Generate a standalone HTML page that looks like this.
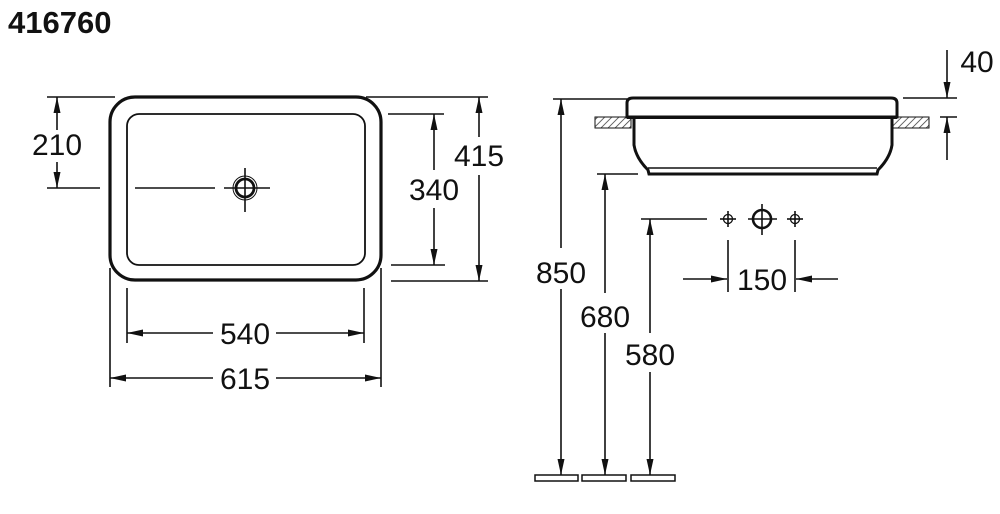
<!DOCTYPE html>
<html><head><meta charset="utf-8"><style>
html,body{margin:0;padding:0;background:#fff;}
svg{display:block;}
text{font-family:"Liberation Sans",Arial,sans-serif;fill:#111;}
</style></head><body>
<svg width="1000" height="514" viewBox="0 0 1000 514" xmlns="http://www.w3.org/2000/svg">
<defs>
<marker id="a" viewBox="0 0 10 10" refX="10" refY="5" markerWidth="16" markerHeight="7" preserveAspectRatio="none" markerUnits="userSpaceOnUse" orient="auto"><path d="M0,0 L10,5 L0,10z" fill="#111"/></marker>
<pattern id="h" width="5" height="5" patternUnits="userSpaceOnUse" patternTransform="rotate(45)"><rect width="5" height="5" fill="#fff"/><line x1="0" y1="0" x2="0" y2="5" stroke="#333" stroke-width="1.5"/></pattern>
</defs>
<text x="8" y="33" font-size="31" font-weight="bold">416760</text>
<g stroke="#111" fill="none">
<rect x="110" y="97" width="271" height="183" rx="25" stroke-width="3.2"/>
<rect x="127" y="114" width="238" height="151" rx="12" stroke-width="1.8"/>
<circle cx="245" cy="188" r="12" stroke-width="1"/>
<circle cx="245" cy="188" r="9" stroke-width="2.8"/>
<g stroke-width="1.6">
<line x1="224" y1="188" x2="270" y2="188"/><line x1="245" y1="168" x2="245" y2="212"/>
<line x1="135" y1="188" x2="215" y2="188"/>
<line x1="47" y1="97" x2="115" y2="97"/><line x1="47" y1="188" x2="100" y2="188"/>
<line x1="57" y1="130" x2="57" y2="97" marker-end="url(#a)"/>
<line x1="57" y1="162" x2="57" y2="188" marker-end="url(#a)"/>
<line x1="388" y1="114" x2="444" y2="114"/><line x1="391" y1="265" x2="445" y2="265"/>
<line x1="434" y1="170" x2="434" y2="114" marker-end="url(#a)"/>
<line x1="434" y1="208" x2="434" y2="265" marker-end="url(#a)"/>
<line x1="366" y1="97" x2="488" y2="97"/><line x1="391" y1="281" x2="488" y2="281"/>
<line x1="479" y1="137" x2="479" y2="97" marker-end="url(#a)"/>
<line x1="479" y1="175" x2="479" y2="281" marker-end="url(#a)"/>
<line x1="127" y1="288" x2="127" y2="343"/><line x1="364" y1="288" x2="364" y2="343"/>
<line x1="213" y1="333" x2="127" y2="333" marker-end="url(#a)"/>
<line x1="276" y1="333" x2="364" y2="333" marker-end="url(#a)"/>
<line x1="110" y1="268" x2="110" y2="387"/><line x1="381" y1="268" x2="381" y2="387"/>
<line x1="213" y1="378" x2="110" y2="378" marker-end="url(#a)"/>
<line x1="276" y1="378" x2="381" y2="378" marker-end="url(#a)"/>
</g>
<rect x="595" y="117" width="36" height="11" fill="url(#h)" stroke-width="1"/>
<rect x="893" y="117" width="36" height="11" fill="url(#h)" stroke-width="1"/>
<path d="M627,117 L627,103 Q627,98 633,98 L891,98 Q897,98 897,103 L897,117 Z" fill="#fff" stroke-width="3"/>
<path d="M634,118 L634,145 Q636,158 648,170 L649,174 L877,174 L878,170 Q890,158 892,145 L892,118" fill="#fff" stroke-width="3"/>
<line x1="648" y1="168" x2="877" y2="168" stroke-width="1.5"/>
<line x1="627" y1="117.5" x2="897" y2="117.5" stroke-width="3"/>
<g stroke-width="1.6">
<line x1="553" y1="99" x2="627" y2="99"/>
<line x1="561" y1="248" x2="561" y2="99" marker-end="url(#a)"/>
<line x1="561" y1="289" x2="561" y2="475" marker-end="url(#a)"/>
<line x1="597" y1="174" x2="638" y2="174"/>
<line x1="605" y1="293" x2="605" y2="174" marker-end="url(#a)"/>
<line x1="605" y1="333" x2="605" y2="475" marker-end="url(#a)"/>
<line x1="641" y1="219" x2="707" y2="219"/>
<line x1="650" y1="333" x2="650" y2="219" marker-end="url(#a)"/>
<line x1="650" y1="372" x2="650" y2="475" marker-end="url(#a)"/>
<line x1="720" y1="219" x2="736" y2="219"/><line x1="728" y1="211" x2="728" y2="227"/>
<line x1="787" y1="219" x2="803" y2="219"/><line x1="795" y1="211" x2="795" y2="227"/>
<line x1="748" y1="219" x2="777" y2="219"/><line x1="762" y1="204" x2="762" y2="235"/>
<line x1="728" y1="240" x2="728" y2="292"/><line x1="795" y1="240" x2="795" y2="292"/>
<line x1="683" y1="279" x2="727" y2="279" marker-end="url(#a)"/>
<line x1="838" y1="279" x2="796" y2="279" marker-end="url(#a)"/>
<line x1="903" y1="98" x2="957" y2="98"/><line x1="940" y1="117" x2="957" y2="117"/>
<line x1="947" y1="50" x2="947" y2="98" marker-end="url(#a)"/>
<line x1="947" y1="160" x2="947" y2="117" marker-end="url(#a)"/>
</g>
<circle cx="728" cy="219" r="4.5" stroke-width="1.3"/>
<circle cx="795" cy="219" r="4.5" stroke-width="1.3"/>
<circle cx="762" cy="219" r="9" stroke-width="2.6"/>
<rect x="535" y="475" width="43" height="6" stroke-width="1.5"/>
<rect x="582" y="475" width="44" height="6" stroke-width="1.5"/>
<rect x="631" y="475" width="44" height="6" stroke-width="1.5"/>
</g>
<g font-size="30" text-anchor="middle">
<text x="57" y="155">210</text>
<text x="434" y="200">340</text>
<text x="479" y="166">415</text>
<text x="245" y="344">540</text>
<text x="245" y="389">615</text>
<text x="561" y="283">850</text>
<text x="605" y="327">680</text>
<text x="650" y="365">580</text>
<text x="762" y="290">150</text>
<text x="977" y="72">40</text>
</g>
</svg>
</body></html>
